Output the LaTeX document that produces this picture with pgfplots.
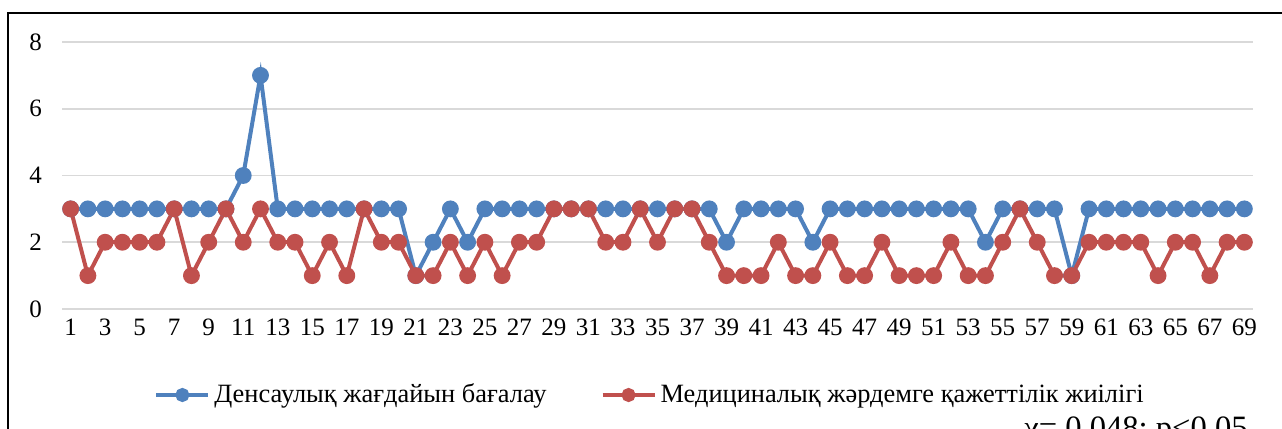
\documentclass[border=0pt]{standalone}
\usepackage{pgfplots}
\pgfplotsset{compat=1.18}
\usepackage{fontspec}
\setmainfont{Liberation Serif}
\definecolor{cblue}{HTML}{4F81BD}
\definecolor{cred}{HTML}{C0504D}
\definecolor{cgrid}{HTML}{D9D9D9}
\pgfplotstableread{
x a b
1 3 3
2 3 1
3 3 2
4 3 2
5 3 2
6 3 2
7 3 3
8 3 1
9 3 2
10 3 3
11 4 2
12 7 3
13 3 2
14 3 2
15 3 1
16 3 2
17 3 1
18 3 3
19 3 2
20 3 2
21 1 1
22 2 1
23 3 2
24 2 1
25 3 2
26 3 1
27 3 2
28 3 2
29 3 3
30 3 3
31 3 3
32 3 2
33 3 2
34 3 3
35 3 2
36 3 3
37 3 3
38 3 2
39 2 1
40 3 1
41 3 1
42 3 2
43 3 1
44 2 1
45 3 2
46 3 1
47 3 1
48 3 2
49 3 1
50 3 1
51 3 1
52 3 2
53 3 1
54 2 1
55 3 2
56 3 3
57 3 2
58 3 1
59 1 1
60 3 2
61 3 2
62 3 2
63 3 2
64 3 1
65 3 2
66 3 2
67 3 1
68 3 2
69 3 2
}\datatable
\begin{document}
\begin{tikzpicture}
\useasboundingbox (0,0) rectangle (641pt,214.5pt);
\clip (0,0) rectangle (641pt,214.5pt);
\draw[line width=1.2pt] (4pt,-5pt) -- (4pt,208pt) -- (645pt,208pt);
\begin{axis}[
  at={(31pt,60pt)}, anchor=south west,
  scale only axis, width=595.5pt, height=133.5pt,
  xmin=0.5, xmax=69.5, ymin=0, ymax=8,
  ytick={0,2,4,6,8}, xtick={1,3,...,69},
  axis line style={draw=none}, major tick style={draw=none},
  ymajorgrids, grid style={color=cgrid, line width=0.8pt},
  /pgf/number format/assume math mode=true,
  tick label style={font=\fontsize{12.5}{14}\selectfont},
  xticklabel style={yshift=-1.5pt},
  yticklabel style={xshift=-6.5pt},
  clip=false,
  legend columns=2,
  legend style={at={(rel axis cs:0,0)}, xshift=43pt, yshift=-43pt, anchor=west, draw=none, fill=none,
    font=\fontsize{13.2}{15}\selectfont, /tikz/every even column/.append style={column sep=25pt}},
  legend cell align=left,
  legend image code/.code={\draw[mark repeat=2,mark phase=2,mark size=2.5pt] plot coordinates {(0pt,0pt)(13pt,0pt)(26pt,0pt)};},
]
\addplot[cblue, line width=2pt, mark=*, mark size=3.2pt, mark options={fill=cblue, draw=cblue}] table[x=x,y=a] {\datatable};
\addlegendentry{Денсаулық жағдайын бағалау}
\addplot[cred, line width=2pt, mark=*, mark size=3.2pt, mark options={fill=cred, draw=cred}] table[x=x,y=b] {\datatable};
\addlegendentry{Медициналық жәрдемге қажеттілік жиілігі}
\end{axis}
\node[anchor=base east, font=\fontsize{16.3}{18}\selectfont, inner sep=0pt] at (624pt,-5pt) {χ= 0,048; p<0,05};
\end{tikzpicture}
\end{document}
